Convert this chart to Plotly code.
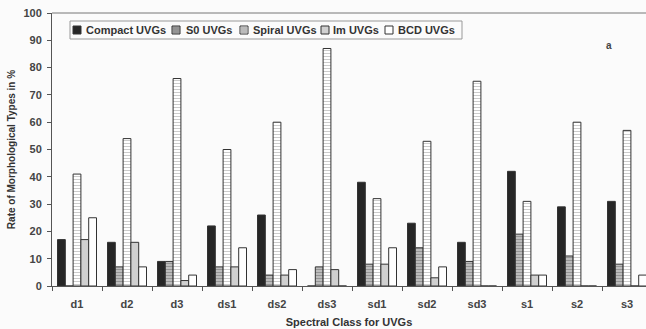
import plotly.graph_objects as go

categories = ["d1", "d2", "d3", "ds1", "ds2", "ds3", "sd1", "sd2", "sd3", "s1", "s2", "s3"]
compact = [17, 16, 9, 22, 26, 0, 38, 23, 16, 42, 29, 31]
s0 = [0, 7, 9, 7, 4, 7, 8, 14, 9, 19, 11, 8]
spiral = [41, 54, 76, 50, 60, 87, 32, 53, 75, 31, 60, 57]
im = [17, 16, 2, 7, 4, 6, 8, 3, 0, 4, 0, 0]
bcd = [25, 7, 4, 14, 6, 0, 14, 7, 0, 4, 0, 4]
series_names = ["Compact UVGs", "S0 UVGs", "Spiral UVGs", "Im UVGs", "BCD UVGs"]
y_ticks = [0, 10, 20, 30, 40, 50, 60, 70, 80, 90, 100]

FONT = "Liberation Sans, Arial, sans-serif"
LINE = dict(color="#333333", width=1)

styles = [
    dict(color="#262626", line=LINE),
    dict(color="#b0b0b0", line=LINE,
         pattern=dict(shape="-", fgcolor="#6a6a6a", bgcolor="#bcbcbc", size=3, solidity=0.35)),
    dict(color="#ffffff", line=LINE,
         pattern=dict(shape="-", fgcolor="#9a9a9a", bgcolor="#ffffff", size=3, solidity=0.35)),
    dict(color="#d0d0d0", line=LINE),
    dict(color="#ffffff", line=LINE),
]
values = [compact, s0, spiral, im, bcd]

fig = go.Figure()
for name, vals, st in zip(series_names, values, styles):
    fig.add_bar(name=name, x=categories, y=vals, marker=st, showlegend=False)

# plot area in screen px: x 52..646, y 13..286
PX0, PX1, PY0, PY1 = 52.0, 646.0, 13.0, 286.0
def px(x):
    return (x - PX0) / (PX1 - PX0)
def py(y):
    return 1 - (y - PY0) / (PY1 - PY0)

# compact legend drawn like the original
legend_box = (70, 21, 462, 39)
sq_x = [73, 172, 240, 321, 385]
txt_x = [84, 184, 251, 331, 396]
sq_fill = ["#262626", "#b0b0b0", "#ffffff", "#d0d0d0", "#ffffff"]
shapes = [dict(type="line", xref="paper", yref="paper", x0=0, x1=1, y0=1, y1=1,
               line=dict(color="#777777", width=1)),
          dict(type="rect", xref="paper", yref="paper",
               x0=px(legend_box[0]), x1=px(legend_box[2]),
               y0=py(legend_box[3]), y1=py(legend_box[1]),
               line=dict(color="#999999", width=1), fillcolor="#fbfbfb")]
annotations = []
for i, name in enumerate(series_names):
    shapes.append(dict(type="rect", xref="paper", yref="paper",
                       x0=px(sq_x[i]), x1=px(sq_x[i] + 8), y0=py(34), y1=py(26),
                       line=dict(color="#333333", width=1), fillcolor=sq_fill[i]))
    if i in (1, 2):
        for yy in (28, 30, 32):
            shapes.append(dict(type="line", xref="paper", yref="paper",
                               x0=px(sq_x[i] + 1), x1=px(sq_x[i] + 7), y0=py(yy), y1=py(yy),
                               line=dict(color="#777777", width=1)))
    annotations.append(dict(text=name, xref="paper", yref="paper",
                            x=px(txt_x[i]), y=py(30), xanchor="left", yanchor="middle",
                            showarrow=False,
                            font=dict(size=11, weight="bold", color="#333333")))
annotations.append(dict(text="<b>a</b>", xref="paper", yref="paper", x=px(614), y=py(38),
                        showarrow=False, font=dict(size=10, color="#444444")))

fig.update_layout(
    width=646, height=329,
    margin=dict(l=52, r=0, t=13, b=43),
    paper_bgcolor="#fbfbfb", plot_bgcolor="#fbfbfb",
    barmode="group", bargap=0.22, bargroupgap=0,
    font=dict(family=FONT, color="#333333", size=11),
    xaxis=dict(range=[-0.5, 11.38], showline=True, linecolor="#555555", linewidth=1,
               ticks="outside", tickson="boundaries", ticklen=4, tickcolor="#555555",
               ticklabelstandoff=8,
               tickfont=dict(size=11, weight="bold", color="#444444"),
               title=dict(text="Spectral Class for UVGs", standoff=9,
                          font=dict(size=11, weight="bold", color="#333333")),
               showgrid=False, automargin=False),
    yaxis=dict(range=[0, 100], tickvals=y_ticks, showline=True, linecolor="#555555",
               linewidth=1, ticks="outside", ticklen=4, tickcolor="#555555",
               ticklabelstandoff=3,
               tickfont=dict(size=11, weight="bold", color="#444444"),
               title=dict(text="Rate of Morphological Types in %", standoff=5,
                          font=dict(size=10, weight="bold", color="#333333")),
               showgrid=False, zeroline=False, automargin=False),
    shapes=shapes,
    annotations=annotations,
)

fig.write_html("out.html", config={"displayModeBar": False},
               post_script="document.body.style.margin='0';")
